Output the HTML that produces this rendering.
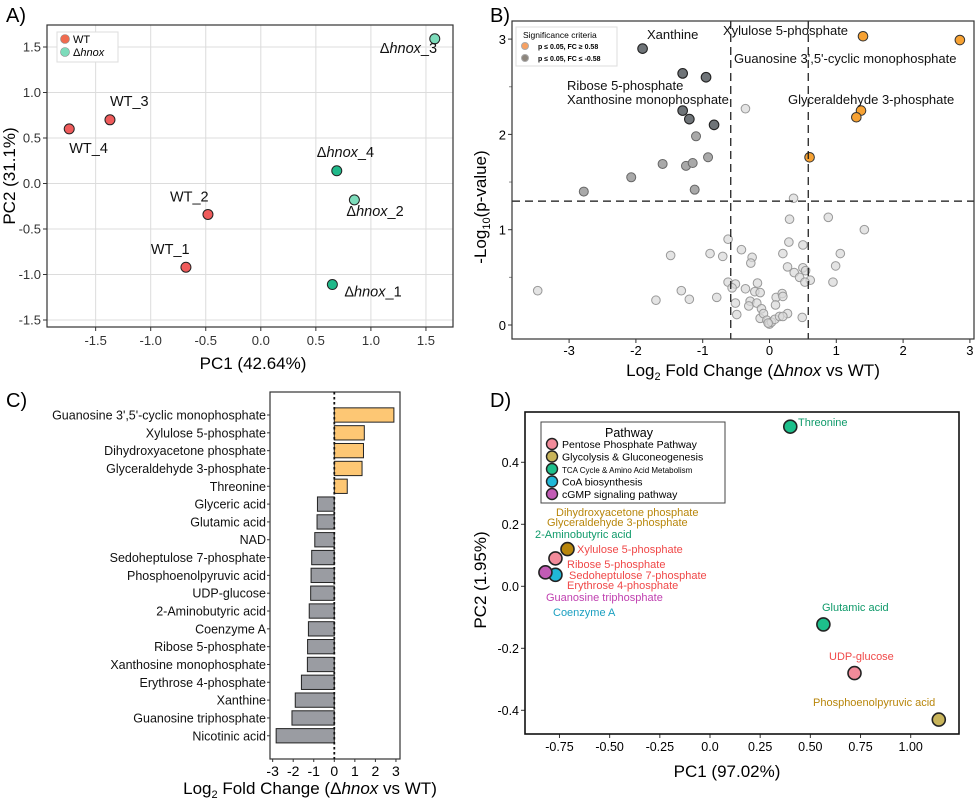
<!DOCTYPE html>
<html><head><meta charset="utf-8"><style>
body{margin:0;background:#fff}
svg{display:block;font-family:"Liberation Sans",Arial,sans-serif}
</style></head><body>
<svg id="fig" width="976" height="802" viewBox="0 0 976 802">
<g id="pA"></g>
<g id="pB"></g>
<g id="pC"></g>
<g id="pD"></g>
</svg>
<script>
// ---- Panel A data
const aNames=["WT_1","WT_2","WT_3","WT_4","Δhnox_1","Δhnox_2","Δhnox_3","Δhnox_4"];
const aPC1=[-0.68,-0.48,-1.37,-1.74,0.65,0.85,1.58,0.69];
const aPC2=[-0.92,-0.34,0.70,0.60,-1.11,-0.18,1.59,0.14];
const aTicks=[-1.5,-1.0,-0.5,0.0,0.5,1.0,1.5];
// ---- Panel B data
const bSigUpX=[1.4,2.85,1.37,1.3,0.6];
const bSigUpY=[3.03,2.99,2.25,2.18,1.76];
const bSigDnX=[-1.9,-1.3,-0.95,-1.3,-1.2,-0.83];
const bSigDnY=[2.9,2.64,2.6,2.25,2.16,2.1];
const bMidX=[-1.1,-0.92,-1.6,-1.25,-1.15,-2.07,-2.78,-1.12];
const bMidY=[1.98,1.76,1.69,1.67,1.7,1.55,1.4,1.42];
const bNsX=[-0.36,0.36,0.3,0.88,1.42,-0.62,-0.42,0.29,0.5,-1.48,-0.89,-0.7,-0.26,-0.28,0.2,1.06,0.27,0.99,0.5,0.54,0.37,0.45,0.61,0.53,0.95,-0.62,-0.51,-0.56,-0.36,-0.18,-0.22,-0.14,-3.47,-1.32,-1.7,-1.2,-0.79,-0.51,-0.49,-0.29,-0.31,-0.19,-0.12,0.1,0.19,0.2,0.09,0.27,0.49,-0.14,-0.09,-0.04,0,0.03,0.08,0.15,0.2,-0.02];
const bNsY=[2.27,1.33,1.11,1.13,1.0,0.9,0.79,0.87,0.84,0.73,0.75,0.72,0.71,0.65,0.75,0.75,0.61,0.62,0.6,0.57,0.55,0.5,0.47,0.45,0.45,0.45,0.43,0.39,0.38,0.44,0.35,0.34,0.36,0.36,0.26,0.27,0.29,0.23,0.11,0.25,0.2,0.23,0.17,0.29,0.33,0.3,0.21,0.12,0.08,0.07,0.12,0.05,0.01,0.03,0.06,0.09,0.09,0.02];
const bXTicks=[-3,-2,-1,0,1,2,3];
const bYTicks=[0,1,2,3];
// ---- Panel C data
const cNames=["Guanosine 3',5'-cyclic monophosphate","Xylulose 5-phosphate","Dihydroxyacetone phosphate","Glyceraldehyde 3-phosphate","Threonine","Glyceric acid","Glutamic acid","NAD","Sedoheptulose 7-phosphate","Phosphoenolpyruvic acid","UDP-glucose","2-Aminobutyric acid","Coenzyme A","Ribose 5-phosphate","Xanthosine monophosphate","Erythrose 4-phosphate","Xanthine","Guanosine triphosphate","Nicotinic acid"];
const cValues=[2.9,1.46,1.42,1.35,0.63,-0.82,-0.84,-0.95,-1.1,-1.13,-1.15,-1.22,-1.26,-1.3,-1.31,-1.6,-1.9,-2.06,-2.83];
const cTicks=[-3,-2,-1,0,1,2,3];
// ---- Panel D data
const dPC1=[0.4,0.565,0.72,1.14,-0.71,-0.77,-0.82,-0.77];
const dPC2=[0.515,-0.123,-0.28,-0.43,0.12,0.09,0.045,0.037];
const dPath=[2,2,0,1,1,0,4,3];
const dXTicks=[-0.75,-0.5,-0.25,0,0.25,0.5,0.75,1.0];
const dXTickLabels=["-0.75","-0.50","-0.25","0.0","0.25","0.50","0.75","1.00"];
const dYTicks=[-0.4,-0.2,0,0.2,0.4];
const dYTickLabels=["-0.4","-0.2","0.0","0.2","0.4"];

const NS="http://www.w3.org/2000/svg";
function el(p,t,a,txt){const e=document.createElementNS(NS,t);for(const k in a)e.setAttribute(k,a[k]);if(txt!==undefined)e.textContent=txt;p.appendChild(e);return e;}

// ===== Panel A
(function(){
const g=document.getElementById('pA');
const sx=v=>260.8+v*110.1, sy=v=>183.5-v*91;
const L=47,R=453,T=25,B=327;
const lbl=el(g,'text',{x:6,y:22,'font-size':20},'A)');

aTicks.forEach(t=>{
 el(g,'line',{x1:sx(t),x2:sx(t),y1:T,y2:B,stroke:'#dcdcdc','stroke-width':1});
 el(g,'line',{x1:L,x2:R,y1:sy(t),y2:sy(t),stroke:'#dcdcdc','stroke-width':1});
 el(g,'line',{x1:sx(t),x2:sx(t),y1:B,y2:B+4,stroke:'#333'});
 el(g,'line',{x1:L-4,x2:L,y1:sy(t),y2:sy(t),stroke:'#333'});
 const xt=el(g,'text',{x:sx(t),y:B+18,'font-size':13,'text-anchor':'middle',fill:'#333'},t.toFixed(1));
 
 const yt=el(g,'text',{x:L-6,y:sy(t)+4.5,'font-size':13,'text-anchor':'end',fill:'#333'},t.toFixed(1));
 
});
el(g,'rect',{x:L,y:T,width:R-L,height:B-T,fill:'none',stroke:'#333','stroke-width':1.2});
const lc=['#ef5b5b','#ef5b5b','#ef5b5b','#ef5b5b','#20b98a','#7ddcbb','#7ddcbb','#20b98a'];
const off=[[-35,-13],[-38,-13],[0,-14],[0,24],[12,12],[-8,16],[-55,14],[-20,-14]];
aNames.forEach((n,i)=>{
 const c=el(g,'circle',{cx:sx(aPC1[i]),cy:sy(aPC2[i]),r:5,fill:lc[i],stroke:'#222','stroke-width':1});
 
 const isH=n.startsWith('Δ');
 const t=el(g,'text',{x:sx(aPC1[i])+off[i][0],y:sy(aPC2[i])+off[i][1],'font-size':14.5,fill:'#111'});
 
 if(isH){el(t,'tspan',{},'Δ');el(t,'tspan',{'font-style':'italic'},'hnox');el(t,'tspan',{},n.slice(5));}
 else t.textContent=n;
});
const lg=el(g,'g',{});
el(lg,'rect',{x:57,y:32,width:61,height:30,fill:'#fff',stroke:'#ddd'});
el(lg,'circle',{cx:65,cy:39,r:4.5,fill:'#ef6b4f',stroke:'#888','stroke-width':0.6});
el(lg,'circle',{cx:65,cy:52,r:4.5,fill:'#7ddcbb',stroke:'#888','stroke-width':0.6});
el(lg,'text',{x:73,y:43,'font-size':11},'WT');
const l2=el(lg,'text',{x:73,y:56,'font-size':11});el(l2,'tspan',{},'Δ');el(l2,'tspan',{'font-style':'italic'},'hnox');
const xl=el(g,'text',{x:253,y:369,'font-size':17,'text-anchor':'middle'},'PC1 (42.64%)');

const yl=el(g,'text',{x:0,y:0,'font-size':17,'text-anchor':'middle',transform:'translate(15,176) rotate(-90)'},'PC2 (31.1%)');

})();

// ===== Panel B
(function(){
const g=document.getElementById('pB');
const sx=v=>769.5+v*66.8, sy=v=>325-v*95.3;
const L=512,R=974,T=21,B=339;
const lbl=el(g,'text',{x:490,y:22,'font-size':20},'B)');

bXTicks.forEach(t=>{
 el(g,'line',{x1:sx(t),x2:sx(t),y1:B,y2:B+4,stroke:'#333'});
 const x=el(g,'text',{x:sx(t),y:B+16,'font-size':13,'text-anchor':'middle'},String(t));
 
});
bYTicks.forEach(t=>{
 el(g,'line',{x1:L-4,x2:L,y1:sy(t),y2:sy(t),stroke:'#333'});
 const y=el(g,'text',{x:L-6,y:sy(t)+5,'font-size':13,'text-anchor':'end'},String(t));
 
});
[0.5,1.5,2.5].forEach(t=>el(g,'line',{x1:L-3,x2:L,y1:sy(t),y2:sy(t),stroke:'#888'}));
bNsX.forEach((x,i)=>{const c=el(g,'circle',{cx:sx(x),cy:sy(bNsY[i]),r:4.3,fill:'#d9d9d9','fill-opacity':0.7,stroke:'#999','stroke-width':1});
 });
bMidX.forEach((x,i)=>{const c=el(g,'circle',{cx:sx(x),cy:sy(bMidY[i]),r:4.5,fill:'#a9a9a9',stroke:'#666','stroke-width':1});
 });
bSigDnX.forEach((x,i)=>{const c=el(g,'circle',{cx:sx(x),cy:sy(bSigDnY[i]),r:4.8,fill:'#6f7478',stroke:'#222','stroke-width':1.1});
 });
bSigUpX.forEach((x,i)=>{const c=el(g,'circle',{cx:sx(x),cy:sy(bSigUpY[i]),r:4.8,fill:'#f7a233',stroke:'#333','stroke-width':1});
 });
[-0.58,0.58].forEach(v=>{const l=el(g,'line',{x1:sx(v),x2:sx(v),y1:T,y2:B,stroke:'#111','stroke-width':1.2,'stroke-dasharray':'8,5'});
 });
const h=el(g,'line',{x1:L,x2:R,y1:sy(1.3),y2:sy(1.3),stroke:'#111','stroke-width':1.2,'stroke-dasharray':'8,5'});

el(g,'rect',{x:L,y:T,width:R-L,height:B-T,fill:'none',stroke:'#333','stroke-width':1.2});
const labs=[["Xanthine",647,39],["Xylulose 5-phosphate",723,35],["Guanosine 3',5'-cyclic monophosphate",734,63],["Ribose 5-phosphate",567,90],["Xanthosine monophosphate",567,104],["Glyceraldehyde 3-phosphate",788,104]];
labs.forEach(a=>{const t=el(g,'text',{x:a[1],y:a[2],'font-size':13,fill:'#111'},a[0]);
 });
const lg=el(g,'g',{});
el(lg,'rect',{x:516,y:27,width:101,height:39,fill:'#fff',stroke:'#ddd'});
el(lg,'text',{x:523,y:38,'font-size':8.5},'Significance criteria');
el(lg,'circle',{cx:525,cy:46,r:3.5,fill:'#f7a061',stroke:'#aaa'});
el(lg,'circle',{cx:525,cy:58,r:3.5,fill:'#8c857c',stroke:'#aaa'});
el(lg,'text',{x:538,y:49,'font-size':7,'font-weight':'bold'},'p ≤ 0.05, FC ≥ 0.58');
el(lg,'text',{x:538,y:61,'font-size':7,'font-weight':'bold'},'p ≤ 0.05, FC ≤ -0.58');
const xl=el(g,'text',{x:753,y:376,'font-size':17,'text-anchor':'middle'});

el(xl,'tspan',{},'Log');el(xl,'tspan',{'font-size':11,dy:4},'2');el(xl,'tspan',{dy:-4},' Fold Change (Δ');el(xl,'tspan',{'font-style':'italic'},'hnox');el(xl,'tspan',{},' vs WT)');
const yl=el(g,'text',{'font-size':17,'text-anchor':'middle',transform:'translate(486,207) rotate(-90)'});

el(yl,'tspan',{},'-Log');el(yl,'tspan',{'font-size':11,dy:4},'10');el(yl,'tspan',{dy:-4},'(p-value)');
})();

// ===== Panel C
(function(){
const g=document.getElementById('pC');
const sx=v=>334.3+v*20.55;
const L=270,R=400,T=392,B=759, y0=415, dy=17.82, bh=14.3;
const lbl=el(g,'text',{x:6,y:407,'font-size':20},'C)');

el(g,'rect',{x:L,y:T,width:R-L,height:B-T,fill:'none',stroke:'#333','stroke-width':1.2});
cNames.forEach((n,i)=>{
 const v=cValues[i], yc=y0+i*dy;
 const r=el(g,'rect',{x:Math.min(sx(0),sx(v)),y:yc-bh/2,width:Math.abs(sx(v)-sx(0)),height:bh,fill:v>0?'#fdc774':'#9a9ca2',stroke:'#222','stroke-width':1});
 
 el(g,'line',{x1:L-3,x2:L,y1:yc,y2:yc,stroke:'#333'});
 const t=el(g,'text',{x:L-4,y:yc+4.5,'font-size':12.5,'text-anchor':'end',fill:'#111'},n);
 
});
const z=el(g,'line',{x1:sx(0),x2:sx(0),y1:T,y2:B,stroke:'#111','stroke-width':1.8,'stroke-dasharray':'2.5,2.5'});

cTicks.forEach(t=>{
 el(g,'line',{x1:sx(t),x2:sx(t),y1:B,y2:B+3,stroke:'#333'});
 const x=el(g,'text',{x:sx(t),y:B+17,'font-size':14,'text-anchor':'middle'},String(t));
 
});
const xl=el(g,'text',{x:310,y:794,'font-size':17,'text-anchor':'middle'});

el(xl,'tspan',{},'Log');el(xl,'tspan',{'font-size':11,dy:4},'2');el(xl,'tspan',{dy:-4},' Fold Change (Δ');el(xl,'tspan',{'font-style':'italic'},'hnox');el(xl,'tspan',{},' vs WT)');
})();

// ===== Panel D
(function(){
const g=document.getElementById('pD');
const sx=v=>710+v*200.7, sy=v=>586.3-v*310;
const L=525,R=959,T=412,B=734;
const cols=['#f28b9a','#c8b45a','#1dbf8b','#20b8d8','#c25bb5'];
const lbl=el(g,'text',{x:490,y:407,'font-size':20},'D)');

dXTicks.forEach((t,i)=>{
 el(g,'line',{x1:sx(t),x2:sx(t),y1:B,y2:B+4,stroke:'#333'});
 const x=el(g,'text',{x:sx(t),y:B+17,'font-size':12.5,'text-anchor':'middle'},dXTickLabels[i]);
 
});
dYTicks.forEach((t,i)=>{
 el(g,'line',{x1:L-4,x2:L,y1:sy(t),y2:sy(t),stroke:'#333'});
 const y=el(g,'text',{x:L-6,y:sy(t)+4.5,'font-size':12.5,'text-anchor':'end'},dYTickLabels[i]);
 
});
const order=[0,1,2,3,4,5,7,6];
order.forEach(i=>{
 const c=el(g,'circle',{cx:sx(dPC1[i]),cy:sy(dPC2[i]),r:6.5,fill:i===4?'#b8860b':cols[dPath[i]],stroke:'#222','stroke-width':1.6});
 
});
el(g,'rect',{x:L,y:T,width:R-L,height:B-T,fill:'none',stroke:'#111','stroke-width':1.6});
const labs=[["Threonine",798,426,'#0f9a6a'],["Dihydroxyacetone phosphate",556,516,'#b8860b'],["Glyceraldehyde 3-phosphate",547,526,'#b8860b'],["2-Aminobutyric acid",535,538,'#0f9a6a'],["Xylulose 5-phosphate",577,553,'#f04848'],["Ribose 5-phosphate",567,568,'#f04848'],["Sedoheptulose 7-phosphate",569,579,'#f04848'],["Erythrose 4-phosphate",567,589,'#f04848'],["Guanosine triphosphate",546,601,'#c040b0'],["Coenzyme A",553,616,'#1a9fc0'],["Glutamic acid",822,611,'#0f9a6a'],["UDP-glucose",829,660,'#f04848'],["Phosphoenolpyruvic acid",813,706,'#b8860b']];
labs.forEach(a=>{const t=el(g,'text',{x:a[1],y:a[2],'font-size':11,fill:a[3]},a[0]);
 });
const lg=el(g,'g',{});
el(lg,'rect',{x:541,y:422,width:184,height:81,fill:'#fff',stroke:'#444'});
el(lg,'text',{x:629,y:437,'font-size':12.5,'text-anchor':'middle'},'Pathway');
const ln=["Pentose Phosphate Pathway","Glycolysis & Gluconeogenesis","TCA Cycle & Amino Acid Metabolism","CoA biosynthesis","cGMP signaling pathway"];
ln.forEach((n,i)=>{const yy=444+i*12.5;
 el(lg,'circle',{cx:552,cy:yy,r:5.5,fill:cols[i],stroke:'#222','stroke-width':1.4});
 el(lg,'text',{x:562,y:yy+4,'font-size':i===2?8:10.5},n);});
const xl=el(g,'text',{x:727,y:777,'font-size':17,'text-anchor':'middle'},'PC1 (97.02%)');

const yl=el(g,'text',{'font-size':17,'text-anchor':'middle',transform:'translate(486,580) rotate(-90)'},'PC2 (1.95%)');

})();
</script>
</body></html>
